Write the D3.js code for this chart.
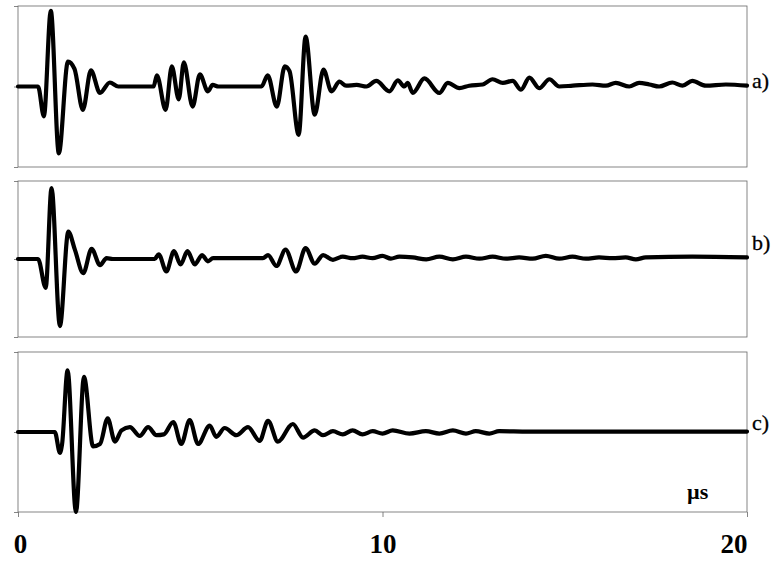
<!DOCTYPE html>
<html>
<head>
<meta charset="utf-8">
<script src="https://cdn.jsdelivr.net/npm/d3@7"></script>
<style>
  html, body { margin: 0; padding: 0; background: #fff; }
  svg { display: block; }
</style>
</head>
<body>
<svg id="chart" width="773" height="561"></svg>
<script>
// ---- data (time in µs, normalised amplitude) ----
const waveA = [
  [0,0],[0.55,0],[0.71,-0.37],[0.90,0.94],[1.12,-0.83],[1.37,0.31],[1.55,0.22],[1.78,-0.29],
  [2.0,0.2],[2.25,-0.08],[2.52,0.05],[2.75,0],[3.72,0],[3.81,0.14],[4.05,-0.29],[4.22,0.25],
  [4.41,-0.16],[4.55,0.30],[4.79,-0.25],[4.99,0.15],[5.21,-0.06],[5.34,0.02],[5.5,0],[6.68,0],
  [6.85,0.14],[7.10,-0.25],[7.32,0.25],[7.45,0.19],[7.70,-0.6],[7.89,0.62],[8.14,-0.35],
  [8.38,0.21],[8.60,-0.06],[8.82,0.06],[9.0,0.01],[9.29,0.02],[9.56,0],[9.83,0.07],
  [10.19,-0.06],[10.42,0.075],[10.60,0],[10.69,0.045],[10.83,-0.08],[11.15,0.10],
  [11.56,-0.08],[11.79,0.045],[12.11,-0.02],[12.38,0.01],[12.75,0.025],[13.02,0.09],
  [13.30,0.045],[13.57,0.07],[13.80,-0.04],[14.03,0.11],[14.30,-0.02],[14.58,0.09],
  [14.85,0],[15.22,0.01],[15.76,0.025],[16.13,0.01],[16.40,0.045],[16.77,0],[17.04,0.045],
  [17.32,0.025],[17.59,0],[17.95,0.05],[18.23,0.01],[18.50,0.07],[18.87,0.01],[19.42,0.025],
  [20,0.01]
];
const waveB = [
  [0,0],[0.55,0],[0.76,-0.37],[0.92,0.91],[1.15,-0.86],[1.38,0.35],[1.56,0.12],[1.79,-0.18],
  [2.02,0.13],[2.25,-0.08],[2.43,0.01],[2.6,0],[3.75,0],[3.86,0.06],[4.07,-0.16],[4.28,0.10],
  [4.46,-0.07],[4.65,0.10],[4.85,-0.07],[5.05,0.05],[5.21,-0.03],[5.35,0.01],[6.72,0.01],
  [6.86,0.05],[7.09,-0.09],[7.34,0.12],[7.63,-0.16],[7.89,0.14],[8.14,-0.06],[8.37,0.05],
  [8.64,-0.01],[8.91,0.03],[9.18,0.01],[9.45,0.03],[9.73,0.01],[10.0,0.04],[10.23,0.005],
  [10.46,0.03],[10.83,0.02],[11.2,-0.004],[11.56,0.03],[11.93,-0.004],[12.29,0.03],
  [12.66,0.004],[13.02,0.03],[13.39,0.004],[13.75,0.02],[14.12,0.004],[14.48,0.04],
  [14.85,0.004],[15.21,0.03],[15.58,0.004],[15.94,0.02],[16.31,0.01],[16.67,0.02],
  [16.95,-0.004],[17.22,0.02],[18.5,0.03],[20,0.02]
];
const waveC = [
  [0,0],[1.01,0],[1.15,-0.26],[1.21,-0.15],[1.36,0.77],[1.59,-1.0],[1.81,0.69],[2.06,-0.18],
  [2.25,-0.15],[2.46,0.17],[2.66,-0.12],[2.84,0.02],[3.07,0.06],[3.34,-0.05],[3.57,0.06],
  [3.80,-0.04],[4.0,-0.03],[4.26,0.125],[4.48,-0.15],[4.71,0.15],[4.94,-0.15],[5.26,0.08],
  [5.44,-0.06],[5.67,0.05],[5.99,-0.04],[6.31,0.06],[6.63,-0.11],[6.86,0.14],[7.13,-0.12],
  [7.54,0.1],[7.82,-0.07],[8.14,0.02],[8.37,-0.04],[8.64,0.01],[8.91,-0.03],[9.18,0.02],
  [9.45,-0.03],[9.73,0.01],[10.0,-0.02],[10.28,0.02],[10.74,-0.02],[11.19,0.01],
  [11.56,-0.02],[11.93,0.02],[12.29,-0.02],[12.56,0.01],[12.93,-0.02],[13.2,0.01],
  [14,0.005],[20,0.005]
];
const panelLabels = ["a)", "b)", "c)"];
const xTicks = [0, 10, 20];
const unitLabel = "µs";

// ---- layout ----
const svg = d3.select("#chart");
const left = 18, right = 747;
const panels = [
  { data: waveA, top: 6,   bottom: 167, labelY: 88 },
  { data: waveB, top: 181, bottom: 337, labelY: 250 },
  { data: waveC, top: 352, bottom: 512, labelY: 430 }
];
const x = d3.scaleLinear().domain([0, 20]).range([left, right]);
const frameColor = "#666";

panels.forEach((p, i) => {
  const y = d3.scaleLinear().domain([-1, 1]).range([p.bottom, p.top]);
  const g = svg.append("g");
  // frame
  g.append("rect")
    .attr("x", left).attr("y", p.top)
    .attr("width", right - left).attr("height", p.bottom - p.top)
    .attr("fill", "none").attr("stroke", frameColor).attr("stroke-width", 0.8);
  // left ticks
  const yAxis = d3.axisLeft(y).tickValues([-1, 0, 1]).tickSize(4).tickFormat("");
  const ya = g.append("g").attr("transform", `translate(${left},0)`).call(yAxis);
  ya.select(".domain").remove();
  ya.selectAll("line").attr("stroke", frameColor).attr("stroke-width", 0.8);
  // waveform
  const line = d3.line()
    .x(d => x(d[0]))
    .y(d => y(d[1]))
    .curve(d3.curveMonotoneX);
  g.append("path")
    .datum(p.data)
    .attr("d", line)
    .attr("fill", "none")
    .attr("stroke", "#000")
    .attr("stroke-width", 4.2)
    .attr("stroke-linejoin", "round")
    .attr("stroke-linecap", "round");
  // label
  g.append("text")
    .attr("x", right + 5).attr("y", p.labelY)
    .attr("font-family", "'Liberation Serif', 'DejaVu Serif', serif")
    .attr("font-size", 22)
    .attr("fill", "#000")
    .attr("stroke", "#000")
    .attr("stroke-width", 0.3)
    .text(panelLabels[i]);
});

// bottom axis
const xAxis = d3.axisBottom(x).tickValues(xTicks).tickSize(5).tickFormat(d3.format("d"));
const xa = svg.append("g").attr("transform", `translate(0,${panels[2].bottom})`).call(xAxis);
xa.select(".domain").remove();
xa.selectAll("line").attr("stroke", frameColor).attr("stroke-width", 0.8);
xa.selectAll("text")
  .attr("font-family", "'Liberation Serif', 'DejaVu Serif', serif")
  .attr("font-size", 27)
  .attr("font-weight", "bold")
  .attr("fill", "#000")
  .attr("dy", null)
  .attr("y", 41)
  .attr("text-anchor", (d, i) => i === xTicks.length - 1 ? "end" : "middle")
  .attr("dx", (d, i) => i === 0 ? 2 : 0);

// unit label
svg.append("text")
  .attr("x", x(20) - 60).attr("y", panels[2].bottom - 13)
  .attr("font-family", "'Liberation Serif', 'DejaVu Serif', serif")
  .attr("font-size", 22)
  .attr("font-weight", "bold")
  .attr("fill", "#000")
  .text(unitLabel);
</script>
</body>
</html>
